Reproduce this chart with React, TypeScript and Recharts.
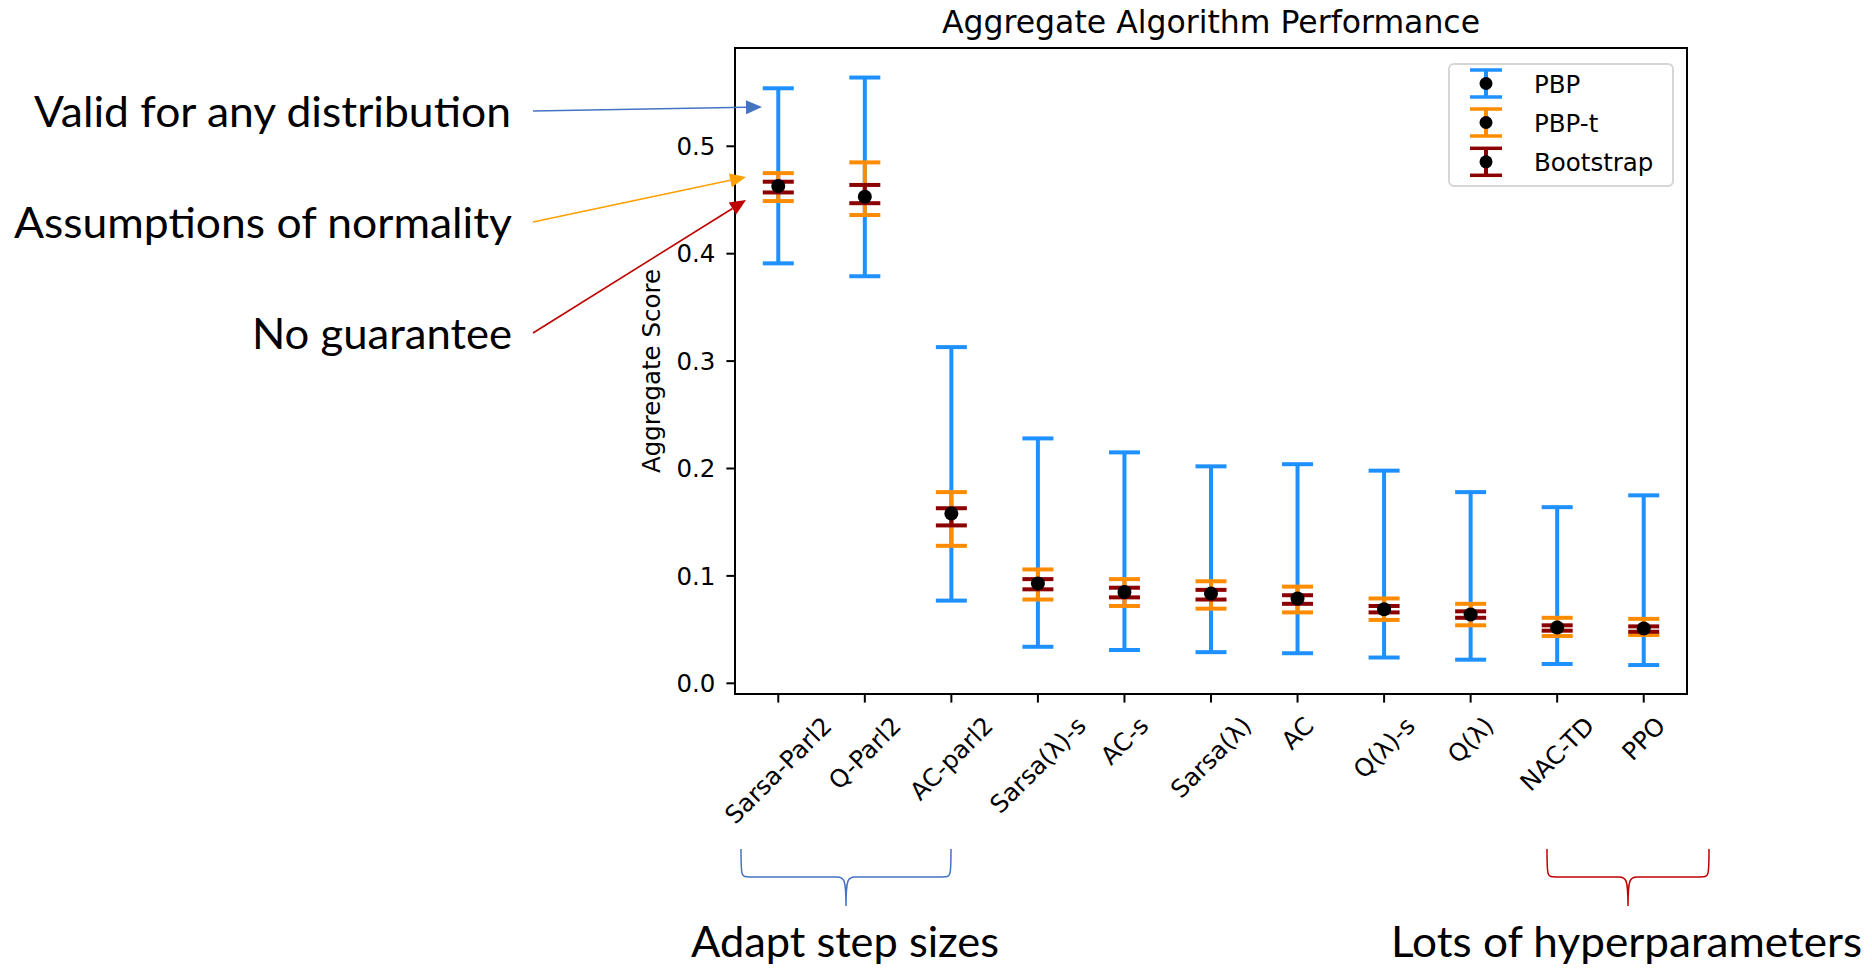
import React from "react";
import { ComposedChart, Line, ErrorBar, XAxis, YAxis, Legend, ReferenceArea } from "recharts";

const categories = [
  "Sarsa-Parl2",
  "Q-Parl2",
  "AC-parl2",
  "Sarsa(λ)-s",
  "AC-s",
  "Sarsa(λ)",
  "AC",
  "Q(λ)-s",
  "Q(λ)",
  "NAC-TD",
  "PPO",
];

const means = [0.463, 0.453, 0.158, 0.093, 0.085, 0.0835, 0.079, 0.069, 0.064, 0.052, 0.051];

const pbpLow = [0.391, 0.379, 0.077, 0.034, 0.031, 0.029, 0.028, 0.024, 0.022, 0.018, 0.017];
const pbpHigh = [0.554, 0.564, 0.313, 0.228, 0.215, 0.202, 0.204, 0.198, 0.178, 0.164, 0.175];
const pbptLow = [0.449, 0.436, 0.128, 0.078, 0.072, 0.0695, 0.066, 0.059, 0.054, 0.044, 0.045];
const pbptHigh = [0.475, 0.485, 0.178, 0.106, 0.097, 0.095, 0.09, 0.079, 0.074, 0.061, 0.06];
const bootLow = [0.457, 0.447, 0.147, 0.0875, 0.08, 0.078, 0.074, 0.066, 0.061, 0.049, 0.048];
const bootHigh = [0.467, 0.464, 0.163, 0.097, 0.089, 0.087, 0.082, 0.072, 0.067, 0.054, 0.053];

const yTicks = [0, 0.1, 0.2, 0.3, 0.4, 0.5];
const Y_DOMAIN = [-0.00996, 0.5915];

const SERIES = [
  { key: "pbp", name: "PBP", color: "#1E90FF", low: pbpLow, high: pbpHigh },
  { key: "pbpt", name: "PBP-t", color: "#FF8C00", low: pbptLow, high: pbptHigh },
  { key: "boot", name: "Bootstrap", color: "#8B0000", low: bootLow, high: bootHigh },
];

const data = categories.map((name, i) => {
  const row: any = { name, mean: means[i] };
  SERIES.forEach((s) => {
    row[s.key] = [means[i] - s.low[i], s.high[i] - means[i]];
  });
  return row;
});

const FONT = '"DejaVu Sans", sans-serif';
const TICK_FS = 24.5;
const NOTE_FONT = 'Lato, "Open Sans", sans-serif';
const NOTE_FS = 43;

let ctx: CanvasRenderingContext2D | null = null;
function textWidth(s: string) {
  if (!ctx) ctx = document.createElement("canvas").getContext("2d");
  if (!ctx) return s.length * TICK_FS * 0.6;
  ctx.font = `${TICK_FS}px "DejaVu Sans"`;
  return ctx.measureText(s).width;
}

function XTick(props: any) {
  const { x, y, payload } = props;
  const w = textWidth(String(payload.value));
  const h = TICK_FS * 1.17;
  const cy = y + ((w + h) * Math.SQRT1_2) / 2;
  return (
    <text
      x={x}
      y={cy}
      textAnchor="middle"
      dominantBaseline="central"
      transform={`rotate(-45 ${x} ${cy})`}
      fontFamily={FONT}
      fontSize={TICK_FS}
      fill="#000"
    >
      {payload.value}
    </text>
  );
}

function YLabel(props: any) {
  const { viewBox } = props;
  const x = viewBox.x + 25;
  const cy = viewBox.y + viewBox.height / 2;
  return (
    <text
      x={x}
      y={cy}
      textAnchor="middle"
      transform={`rotate(-90 ${x} ${cy})`}
      fontFamily={FONT}
      fontSize={TICK_FS}
      fill="#000"
    >
      Aggregate Score
    </text>
  );
}

function LegendBox() {
  const rows = [20.5, 59.5, 98.8];
  return (
    <div
      style={{
        width: 226,
        height: 124,
        boxSizing: "border-box",
        border: "2px solid #d6d6d6",
        borderRadius: 6,
        background: "rgba(255,255,255,0.8)",
      }}
    >
      <svg width={222} height={120} style={{ display: "block" }}>
        {SERIES.map((s, i) => {
          const cy = rows[i] - 2;
          return (
            <g key={s.key}>
              <line x1={36} x2={36} y1={cy - 13.5} y2={cy + 13.5} stroke={s.color} strokeWidth={4} />
              <line x1={20} x2={52} y1={cy - 13.5} y2={cy - 13.5} stroke={s.color} strokeWidth={3.5} />
              <line x1={20} x2={52} y1={cy + 13.5} y2={cy + 13.5} stroke={s.color} strokeWidth={3.5} />
              <circle cx={36} cy={cy} r={6.5} fill="#000" />
              <text x={84} y={cy + 9} fontFamily={FONT} fontSize={TICK_FS} fill="#000">
                {s.name}
              </text>
            </g>
          );
        })}
      </svg>
    </div>
  );
}

function Arrow({ x1, y1, x2, y2, color }: any) {
  const ang = Math.atan2(y2 - y1, x2 - x1);
  const L = 16;
  const W = 7;
  const bx = x2 - L * Math.cos(ang);
  const by = y2 - L * Math.sin(ang);
  const px = -Math.sin(ang) * W;
  const py = Math.cos(ang) * W;
  return (
    <g>
      <line x1={x1} y1={y1} x2={bx} y2={by} stroke={color} strokeWidth={1.6} />
      <polygon points={`${x2},${y2} ${bx + px},${by + py} ${bx - px},${by - py}`} fill={color} />
    </g>
  );
}

function Brace({ x0, x1, color }: any) {
  const yt = 849;
  const ym = 877;
  const yb = 906;
  const xm = (x0 + x1) / 2;
  const d =
    `M${x0},${yt} C${x0},${ym} ${x0},${ym} ${x0 + 9},${ym} L${xm - 9},${ym} ` +
    `C${xm - 2},${ym} ${xm},${ym + 2} ${xm},${yb} ` +
    `M${xm},${yb} C${xm},${ym + 2} ${xm + 2},${ym} ${xm + 9},${ym} L${x1 - 9},${ym} ` +
    `C${x1},${ym} ${x1},${ym} ${x1},${yt}`;
  return <path d={d} fill="none" stroke={color} strokeWidth={1.5} />;
}

function Overlay() {
  return (
    <svg
      width={1872}
      height={968}
      style={{ position: "absolute", left: 0, top: 0, pointerEvents: "none" }}
    >
      <text x={1211} y={33} textAnchor="middle" fontFamily={FONT} fontSize={31.5} fill="#000">
        Aggregate Algorithm Performance
      </text>

      <text x={34} y={127} textLength={477} lengthAdjust="spacingAndGlyphs" fontFamily={NOTE_FONT} fontSize={NOTE_FS} fill="#000">
        Valid for any distribution
      </text>
      <text x={14} y={238} textLength={498} lengthAdjust="spacingAndGlyphs" fontFamily={NOTE_FONT} fontSize={NOTE_FS} fill="#000">
        Assumptions of normality
      </text>
      <text x={252} y={349} textLength={260} lengthAdjust="spacingAndGlyphs" fontFamily={NOTE_FONT} fontSize={NOTE_FS} fill="#000">
        No guarantee
      </text>

      <Arrow x1={533} y1={111} x2={762} y2={107} color="#4472C4" />
      <Arrow x1={533} y1={222} x2={746} y2={177} color="#FFA000" />
      <Arrow x1={533} y1={333} x2={746} y2={200} color="#C00000" />

      <Brace x0={741} x1={951} color="#4472C4" />
      <Brace x0={1547} x1={1709} color="#C00000" />

      <text x={691} y={957} textLength={308} lengthAdjust="spacingAndGlyphs" fontFamily={NOTE_FONT} fontSize={NOTE_FS} fill="#000">
        Adapt step sizes
      </text>
      <text x={1391} y={957} textLength={471} lengthAdjust="spacingAndGlyphs" fontFamily={NOTE_FONT} fontSize={NOTE_FS} fill="#000">
        Lots of hyperparameters
      </text>
    </svg>
  );
}

export default function App() {
  const axisStroke = { stroke: "#000", strokeWidth: 2 };
  return (
    <div style={{ position: "absolute", left: 0, top: 0, width: 1872, height: 968, background: "#fff" }}>
      <ComposedChart
        width={1872}
        height={968}
        data={data}
        margin={{ top: 48, right: 185, bottom: 74, left: 635 }}
      >
        <XAxis
          dataKey="name"
          scale="band"
          interval={0}
          height={200}
          axisLine={axisStroke}
          tickLine={axisStroke}
          tickSize={8.6}
          tickMargin={8.6}
          tick={(p: any) => <XTick {...p} />}
        />
        <YAxis
          type="number"
          dataKey="mean"
          domain={Y_DOMAIN}
          allowDataOverflow
          ticks={yTicks}
          tickFormatter={(v: number) => v.toFixed(1)}
          width={100}
          axisLine={axisStroke}
          tickLine={axisStroke}
          tickSize={8.6}
          tickMargin={11}
          tick={{ fontFamily: FONT, fontSize: TICK_FS, fill: "#000" }}
          label={(p: any) => <YLabel {...p} />}
        />
        {/* plot frame: spans the outer edges of the first and last band */}
        <ReferenceArea
          x1={categories[0]}
          x2={categories[categories.length - 1]}
          y1={Y_DOMAIN[0]}
          y2={Y_DOMAIN[1]}
          ifOverflow="visible"
          fill="none"
          stroke="#000"
          strokeWidth={2}
        />
        {SERIES.map((s) => (
          <Line
            key={s.key}
            dataKey="mean"
            name={s.name}
            stroke="none"
            dot={false}
            activeDot={false}
            legendType="none"
            isAnimationActive={false}
          >
            <ErrorBar dataKey={s.key} direction="y" width={15.5} stroke={s.color} strokeWidth={4} />
          </Line>
        ))}
        <Line
          dataKey="mean"
          name="mean"
          stroke="none"
          dot={{ r: 7, fill: "#000", stroke: "none" }}
          activeDot={false}
          legendType="none"
          isAnimationActive={false}
        />
        <Legend
          layout="vertical"
          align="center"
          verticalAlign="middle"
          content={() => <LegendBox />}
          wrapperStyle={{ left: 1448, top: 63, width: 226, height: 124 }}
        />
      </ComposedChart>
      <Overlay />
    </div>
  );
}
